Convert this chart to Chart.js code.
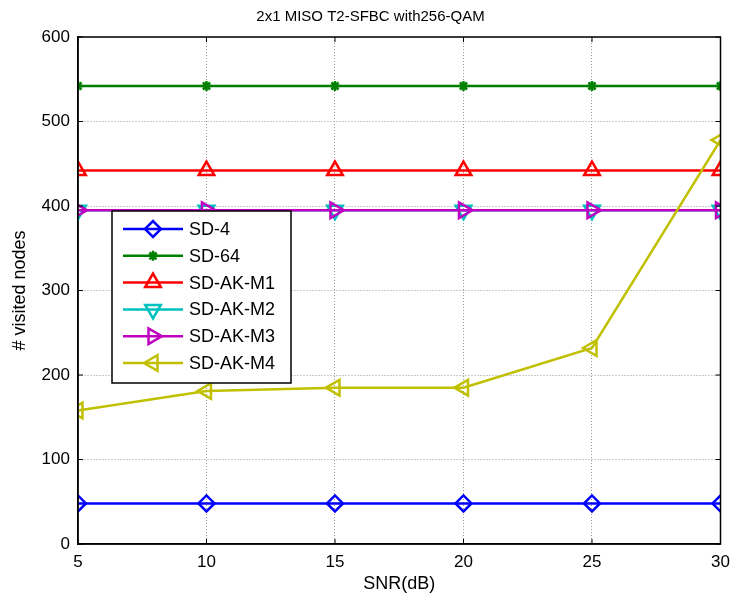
<!DOCTYPE html>
<html>
<head>
<meta charset="utf-8">
<style>
  html, body { margin: 0; padding: 0; background: #fff; }
  #wrap { width: 732px; height: 600px; }
</style>
<script src="https://cdn.jsdelivr.net/npm/chart.js@4/dist/chart.umd.min.js"></script>
</head>
<body>
<div id="wrap"><canvas id="chart"></canvas></div>
<script>
// datos
const snr = [5, 10, 15, 20, 25, 30];
const sd4 = [48, 48, 48, 48, 48, 48];
const sd64 = [542, 542, 542, 542, 542, 542];
const akM1 = [442, 442, 442, 442, 442, 442];
const akM2 = [395, 395, 395, 395, 395, 395];
const akM3 = [395, 395, 395, 395, 395, 395];
const akM4 = [158, 181, 185, 185, 232, 478];
const yTicks = [0, 100, 200, 300, 400, 500, 600];

const font = "'Liberation Sans', Arial, sans-serif";

const pts = arr => arr.map((v, i) => ({ x: snr[i], y: v }));

// plugin: caja del área, marcas internas y leyenda dentro del gráfico
const boxLegend = {
    id: "boxLegend",
    afterDatasetsDraw(chart) {
        const { ctx, chartArea: { left, right, top, bottom }, scales: { x, y } } = chart;
        ctx.save();
        ctx.strokeStyle = "#000";
        ctx.lineWidth = 1.5;
        ctx.strokeRect(left, top, right - left, bottom - top);

        // marcas hacia dentro (estilo matlab)
        ctx.lineWidth = 1;
        ctx.beginPath();
        snr.forEach(v => {
            const px = x.getPixelForValue(v);
            ctx.moveTo(px, bottom); ctx.lineTo(px, bottom - 5);
            ctx.moveTo(px, top); ctx.lineTo(px, top + 5);
        });
        yTicks.forEach(v => {
            const py = y.getPixelForValue(v);
            ctx.moveTo(left, py); ctx.lineTo(left + 5, py);
            ctx.moveTo(right, py); ctx.lineTo(right - 5, py);
        });
        ctx.stroke();

        // leyenda
        const lx = 112, ly = 211, lw = 179, lh = 172;
        ctx.fillStyle = "#fff";
        ctx.fillRect(lx, ly, lw, lh);
        ctx.lineWidth = 1.5;
        ctx.strokeRect(lx, ly, lw, lh);

        ctx.font = "18px " + font;
        ctx.textBaseline = "middle";
        chart.data.datasets.forEach((ds, i) => {
            const yy = ly + 18 + i * 26.8;
            ctx.strokeStyle = ds.borderColor;
            ctx.lineWidth = 2.5;
            ctx.beginPath();
            ctx.moveTo(lx + 11, yy);
            ctx.lineTo(lx + 71, yy);
            ctx.stroke();
            ctx.fillStyle = ds.pointBackgroundColor;
            Chart.helpers.drawPoint(ctx, {
                pointStyle: ds.pointStyle,
                rotation: ds.pointRotation || 0,
                radius: ds.pointRadius,
                borderWidth: ds.pointBorderWidth
            }, lx + 41, yy);
            ctx.fillStyle = "#000";
            ctx.fillText(ds.label, lx + 77, yy + 1);
        });
        ctx.restore();
    }
};

// las series posteriores se dibujan encima (como en matlab)
let n = 0;
const mk = (label, data, color, style, rot, r) => ({
    label,
    data: pts(data),
    order: 10 - n++,
    borderColor: color,
    backgroundColor: color,
    borderWidth: 2.5,
    pointStyle: style,
    pointRotation: rot,
    pointRadius: r,
    pointBorderColor: color,
    pointBackgroundColor: style === "star" ? color : "rgba(0,0,0,0)",
    pointBorderWidth: 2.5,
    tension: 0
});

new Chart(document.getElementById("chart"), {
    type: "line",
    data: {
        datasets: [
            mk("SD-4", sd4, "#0000ff", "rectRot", 0, 8),
            mk("SD-64", sd64, "#008000", "star", 0, 5),
            mk("SD-AK-M1", akM1, "#ff0000", "triangle", 0, 9),
            mk("SD-AK-M2", akM2, "#00c0c0", "triangle", 180, 9),
            mk("SD-AK-M3", akM3, "#c000c0", "triangle", 90, 9),
            mk("SD-AK-M4", akM4, "#c0c000", "triangle", -90, 9)
        ]
    },
    options: {
        responsive: true,
        maintainAspectRatio: false,
        animation: false,
        layout: { padding: { top: 6, right: 0, left: 9, bottom: 2 } },
        plugins: {
            legend: { display: false },
            tooltip: { enabled: false },
            title: {
                display: true,
                text: "2x1 MISO T2-SFBC with256-QAM",
                color: "#000",
                font: { family: font, size: 15, weight: "normal" },
                padding: { top: 2, bottom: 11 }
            }
        },
        scales: {
            x: {
                type: "linear",
                min: 5,
                max: 30,
                afterBuildTicks: ax => { ax.ticks = snr.map(v => ({ value: v })); },
                afterFit: ax => { ax.paddingRight = 10; },
                grid: { color: "#999", drawTicks: false, lineWidth: 1 },
                border: { color: "#000", width: 1.5, dash: [1, 2] },
                ticks: { color: "#000", font: { family: font, size: 17 }, padding: 8 },
                title: { display: true, text: "SNR(dB)", color: "#000", font: { family: font, size: 18 }, padding: { top: -7, bottom: 3 } }
            },
            y: {
                min: 0,
                max: 600,
                afterBuildTicks: ax => { ax.ticks = yTicks.map(v => ({ value: v })); },
                grid: { color: "#999", drawTicks: false, lineWidth: 1 },
                border: { color: "#000", width: 1.5, dash: [1, 2] },
                ticks: { color: "#000", font: { family: font, size: 17 }, padding: 8 },
                title: { display: true, text: "# visited nodes", color: "#000", font: { family: font, size: 18 }, padding: { top: 0, bottom: 3 } }
            }
        }
    },
    plugins: [boxLegend]
});
</script>
</body>
</html>
